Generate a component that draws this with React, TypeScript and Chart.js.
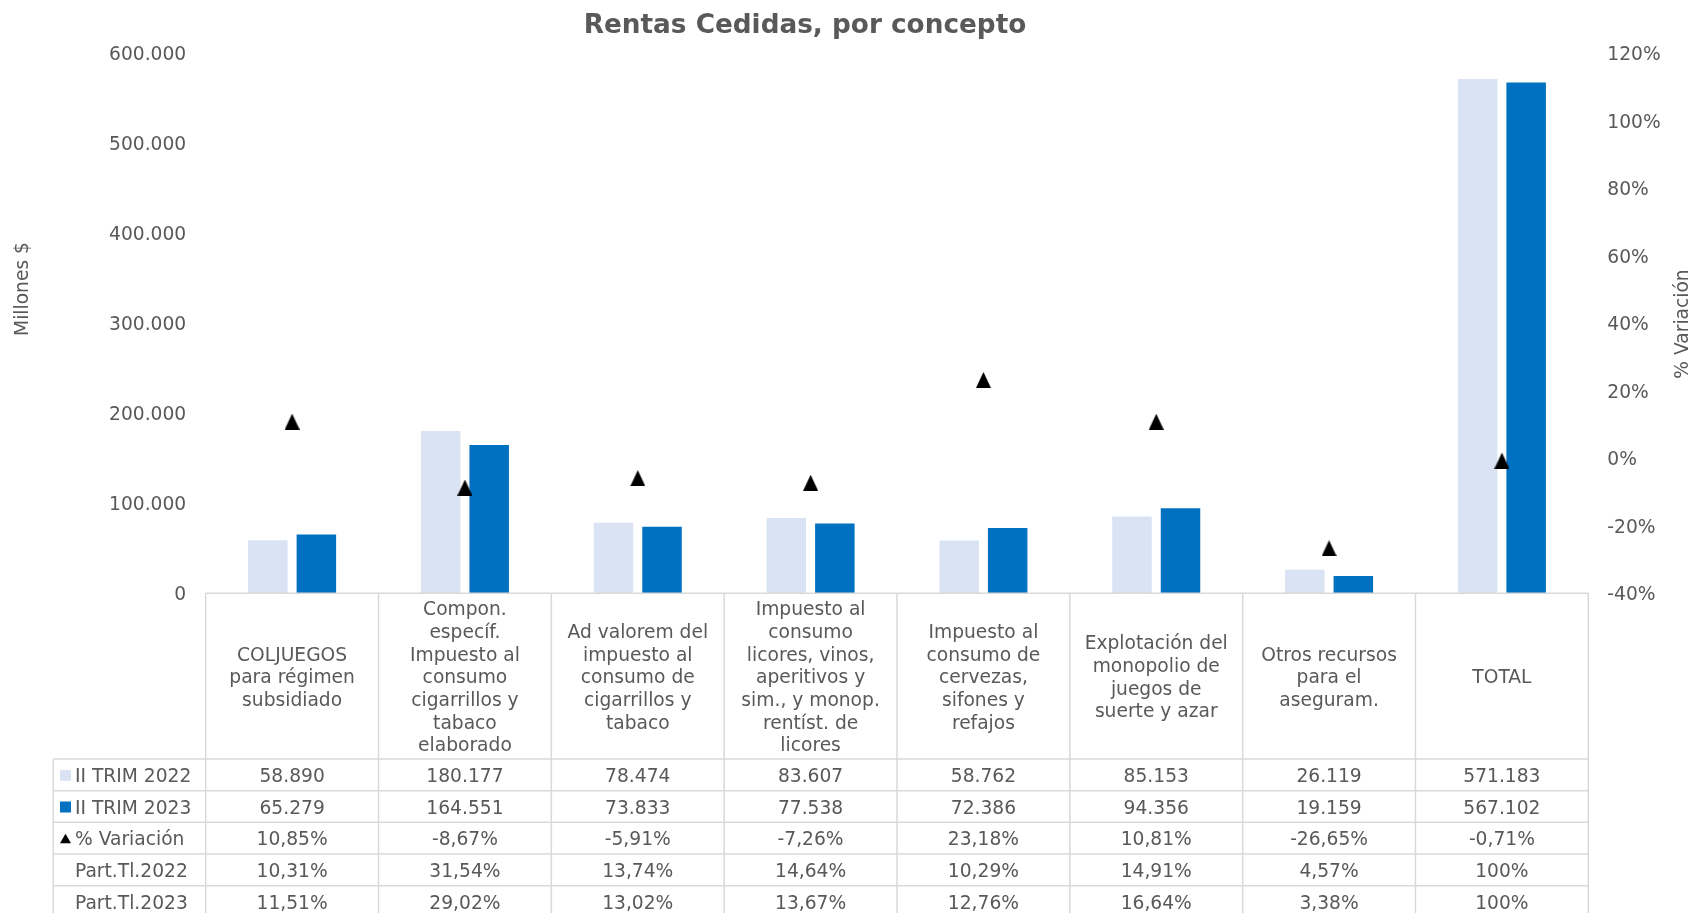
import React, { useEffect, useRef } from 'react';
import { Chart, registerables } from 'chart.js';

Chart.register(...registerables);

const chartTitle = 'Rentas Cedidas, por concepto';
const leftAxisTitle = 'Millones $';
const rightAxisTitle = '% Variación';

const categories: string[][] = [
  ['COLJUEGOS', 'para régimen', 'subsidiado'],
  ['Compon.', 'específ.', 'Impuesto al', 'consumo', 'cigarrillos y', 'tabaco', 'elaborado'],
  ['Ad valorem del', 'impuesto al', 'consumo de', 'cigarrillos y', 'tabaco'],
  ['Impuesto al', 'consumo', 'licores, vinos,', 'aperitivos y', 'sim., y monop.', 'rentíst. de', 'licores'],
  ['Impuesto al', 'consumo de', 'cervezas,', 'sifones y', 'refajos'],
  ['Explotación del', 'monopolio de', 'juegos de', 'suerte y azar'],
  ['Otros recursos', 'para el', 'aseguram.'],
  ['TOTAL'],
];

const seriesNames = ['II TRIM 2022', 'II TRIM 2023', '% Variación', 'Part.Tl.2022', 'Part.Tl.2023'];

const trim2022 = [58890, 180177, 78474, 83607, 58762, 85153, 26119, 571183];
const trim2023 = [65279, 164551, 73833, 77538, 72386, 94356, 19159, 567102];
const variacion = [10.85, -8.67, -5.91, -7.26, 23.18, 10.81, -26.65, -0.71];
const part2022 = [10.31, 31.54, 13.74, 14.64, 10.29, 14.91, 4.57, 100];
const part2023 = [11.51, 29.02, 13.02, 13.67, 12.76, 16.64, 3.38, 100];

const FONT = '"DejaVu Sans", Verdana, sans-serif';
const TEXT = '#595959';
const GRID = '#D9D9D9';
const LIGHT = '#DAE3F3';
const DARK = '#0070C0';

const W = 1692;
const H = 913;
const PLOT_LEFT = 205.7;
const PLOT_RIGHT = 1588.3;
const PLOT_TOP = 53;
const PLOT_BOTTOM = 593.3;
const HEADER_BOTTOM = 759;
const ROW_H = 31.67;
const LEGEND_LEFT = 53.3;
const TEXT_DY = 2.2;

const fmtThousands = (v: number) => String(Math.round(v)).replace(/\B(?=(\d{3})+(?!\d))/g, '.');
const fmtPct = (v: number) => (Number.isInteger(v) ? String(v) : v.toFixed(2).replace('.', ',')) + '%';

const tablePlugin = {
  id: 'tablePlugin',
  afterDraw(chart: any) {
    const ctx: CanvasRenderingContext2D = chart.ctx;
    const { left, right, bottom } = chart.chartArea;
    const xs = chart.scales.x;
    const n = categories.length;
    const colW = (right - left) / n;
    ctx.save();

    // Title
    ctx.fillStyle = TEXT;
    ctx.font = `bold 26.3px ${FONT}`;
    ctx.textAlign = 'center';
    ctx.textBaseline = 'alphabetic';
    ctx.fillText(chartTitle, 805, 33);

    // Axis titles
    ctx.font = `18.67px ${FONT}`;
    ctx.textBaseline = 'middle';
    ctx.save();
    ctx.translate(23, 289);
    ctx.rotate(-Math.PI / 2);
    ctx.fillText(leftAxisTitle, 0, 0);
    ctx.restore();
    ctx.save();
    ctx.translate(1683, 324);
    ctx.rotate(-Math.PI / 2);
    ctx.fillText(rightAxisTitle, 0, 0);
    ctx.restore();

    // Table grid
    ctx.strokeStyle = GRID;
    ctx.lineWidth = 1.5;
    ctx.beginPath();
    ctx.moveTo(left, bottom);
    ctx.lineTo(right, bottom);
    for (let i = 0; i <= n; i++) {
      const x = left + i * colW;
      ctx.moveTo(x, bottom);
      ctx.lineTo(x, H);
    }
    for (let r = 0; r < 6; r++) {
      const y = HEADER_BOTTOM + r * ROW_H;
      ctx.moveTo(LEGEND_LEFT, y);
      ctx.lineTo(right, y);
    }
    ctx.moveTo(LEGEND_LEFT, HEADER_BOTTOM);
    ctx.lineTo(LEGEND_LEFT, H);
    ctx.stroke();

    // Header labels
    ctx.fillStyle = TEXT;
    ctx.font = `18.67px ${FONT}`;
    ctx.textAlign = 'center';
    ctx.textBaseline = 'middle';
    const lh = 22.67;
    const hc = (bottom + HEADER_BOTTOM) / 2 + TEXT_DY;
    categories.forEach((lines, i) => {
      const cx = xs.getPixelForValue(i);
      const y0 = hc - ((lines.length - 1) * lh) / 2;
      lines.forEach((l, j) => ctx.fillText(l, cx, y0 + j * lh));
    });

    // Data rows
    const rows: string[][] = [
      trim2022.map(fmtThousands),
      trim2023.map(fmtThousands),
      variacion.map(fmtPct),
      part2022.map(fmtPct),
      part2023.map(fmtPct),
    ];
    rows.forEach((vals, r) => {
      const cy = HEADER_BOTTOM + (r + 0.5) * ROW_H;
      ctx.fillStyle = TEXT;
      ctx.textAlign = 'center';
      vals.forEach((v, i) => ctx.fillText(v, xs.getPixelForValue(i), cy + TEXT_DY));
      ctx.textAlign = 'left';
      ctx.fillText(seriesNames[r], 75, cy + TEXT_DY);
      if (r === 0 || r === 1) {
        ctx.fillStyle = r === 0 ? LIGHT : DARK;
        ctx.fillRect(60, cy - 5, 11, 11);
      } else if (r === 2) {
        ctx.fillStyle = '#000';
        ctx.beginPath();
        ctx.moveTo(65.5, cy - 4.5);
        ctx.lineTo(71, cy + 5);
        ctx.lineTo(60, cy + 5);
        ctx.closePath();
        ctx.fill();
      }
    });

    ctx.restore();
  },
};

export default function App() {
  const ref = useRef<HTMLCanvasElement | null>(null);

  useEffect(() => {
    document.body.style.margin = '0';
    const canvas = ref.current;
    if (!canvas) return;

    const tri = document.createElement('canvas');
    tri.width = 15;
    tri.height = 16;
    const tc = tri.getContext('2d')!;
    tc.fillStyle = '#000';
    tc.beginPath();
    tc.moveTo(7.5, 0);
    tc.lineTo(15, 16);
    tc.lineTo(0, 16);
    tc.closePath();
    tc.fill();

    const labels = categories.map((c) => c.join(' '));

    const chart = new Chart(canvas, {
      type: 'bar',
      data: {
        labels,
        datasets: [
          {
            type: 'line',
            label: seriesNames[2],
            data: variacion,
            yAxisID: 'y1',
            showLine: false,
            pointStyle: tri as any,
            pointRadius: 8,
            backgroundColor: '#000',
            borderColor: '#000',
            order: 0,
          } as any,
          {
            type: 'bar',
            label: seriesNames[0],
            data: trim2022,
            yAxisID: 'y',
            backgroundColor: LIGHT,
            categoryPercentage: 0.5615,
            barPercentage: 0.814,
            order: 1,
          },
          {
            type: 'bar',
            label: seriesNames[1],
            data: trim2023,
            yAxisID: 'y',
            backgroundColor: DARK,
            categoryPercentage: 0.5615,
            barPercentage: 0.814,
            order: 1,
          },
        ],
      },
      options: {
        responsive: false,
        animation: false,
        devicePixelRatio: 1,
        layout: { padding: { top: PLOT_TOP, bottom: H - PLOT_BOTTOM, left: 0, right: 0 } },
        plugins: {
          legend: { display: false },
          title: { display: false },
          tooltip: { enabled: false },
        },
        scales: {
          x: { type: 'category', display: false, offset: true, grid: { display: false } },
          y: {
            position: 'left',
            min: 0,
            max: 600000,
            grid: { display: false, drawTicks: false },
            border: { display: false },
            ticks: {
              stepSize: 100000,
              padding: 19.5,
              labelOffset: TEXT_DY,
              color: TEXT,
              font: { family: FONT, size: 18.67 },
              callback: (v: any) => fmtThousands(Number(v)),
            },
            afterFit: (s: any) => {
              s.width = PLOT_LEFT;
            },
          },
          y1: {
            position: 'right',
            min: -40,
            max: 120,
            grid: { display: false, drawTicks: false },
            border: { display: false },
            ticks: {
              stepSize: 20,
              padding: 19,
              labelOffset: TEXT_DY,
              color: TEXT,
              font: { family: FONT, size: 18.67 },
              callback: (v: any) => `${v}%`,
            },
            afterFit: (s: any) => {
              s.width = W - PLOT_RIGHT;
            },
          },
        },
      } as any,
      plugins: [tablePlugin],
    });

    return () => chart.destroy();
  }, []);

  return (
    <div style={{ width: W, height: H, background: '#fff' }}>
      <canvas ref={ref} width={W} height={H} style={{ display: 'block' }} />
    </div>
  );
}
